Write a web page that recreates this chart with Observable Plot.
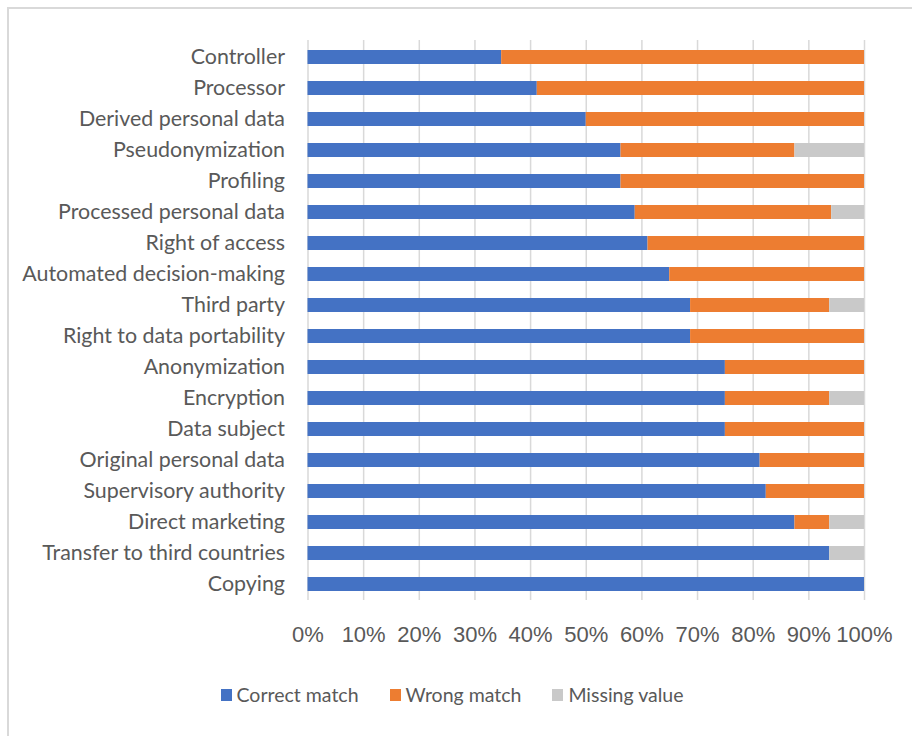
<!DOCTYPE html>
<html>
<head>
<meta charset="utf-8">
<script src="https://cdn.jsdelivr.net/npm/d3@7"></script>
<script src="https://cdn.jsdelivr.net/npm/@observablehq/plot@0.6"></script>
<style>
  html, body { margin: 0; padding: 0; background: #fff; overflow: hidden; }
  #frame {
    position: absolute; left: 7px; top: 7px;
    width: 940px; height: 760px;
    border: 2px solid #d9d9d9; box-sizing: border-box;
  }
  #chart { position: absolute; left: 0; top: 0; }
  #legend {
    position: absolute; left: -4px; top: 683px; width: 912px;
    display: flex; justify-content: center; gap: 31px;
    font-family: Lato, "Open Sans", sans-serif; font-size: 19.5px; color: #595959;
  }
  #legend .item { display: flex; align-items: center; gap: 5px; }
  #legend .sw { width: 11px; height: 12px; display: inline-block; }
</style>
</head>
<body>
<div id="frame"></div>
<div id="chart"></div>
<div id="legend"></div>
<script>
// Terms, top to bottom
const categories = [
  "Controller", "Processor", "Derived personal data", "Pseudonymization",
  "Profiling", "Processed personal data", "Right of access",
  "Automated decision-making", "Third party", "Right to data portability",
  "Anonymization", "Encryption", "Data subject", "Original personal data",
  "Supervisory authority", "Direct marketing", "Transfer to third countries",
  "Copying"
];

// Share of answers per term, in percent
const correct = [34.8, 41.2, 50, 56.25, 56.25, 58.8, 61.1, 65, 68.75, 68.75, 75, 75, 75, 81.25, 82.35, 87.5, 93.75, 100];
const wrong   = [65.2, 58.8, 50, 31.25, 43.75, 35.3, 38.9, 35, 25, 31.25, 25, 18.75, 25, 18.75, 17.65, 6.25, 0, 0];
const missing = [0, 0, 0, 12.5, 0, 5.9, 0, 0, 6.25, 0, 0, 6.25, 0, 0, 0, 6.25, 6.25, 0];

const series = ["Correct match", "Wrong match", "Missing value"];
const colors = ["#4472C4", "#ED7D31", "#C9C9C9"];
const xTicks = [0, 10, 20, 30, 40, 50, 60, 70, 80, 90, 100];

const columns = [correct, wrong, missing];
const rows = categories.flatMap((category, i) =>
  series.map((s, j) => ({category, series: s, value: columns[j][i]}))
);

const chart = Plot.plot({
  width: 912,
  height: 660,
  marginLeft: 307.5,
  marginRight: 48,
  marginTop: 40,
  marginBottom: 60,
  style: {background: "transparent", color: "#595959", overflow: "visible"},
  x: {domain: [0, 100]},
  // each row gets an equal slot; bars fill ~44% of it
  y: {domain: categories, paddingInner: 0.56, paddingOuter: 0.28},
  color: {domain: series, range: colors},
  marks: [
    Plot.gridX(xTicks, {stroke: "#d9d9d9", strokeOpacity: 1, strokeWidth: 1.5}),
    Plot.barX(rows, {y: "category", x: "value", fill: "series", order: series}),
    Plot.axisX(xTicks, {
      tickSize: 0, tickPadding: 26, tickFormat: d => d + "%",
      fontSize: 22, fontFamily: "Liberation Sans, Arial, sans-serif", label: null
    }),
    Plot.axisY({
      tickSize: 0, tickPadding: 23,
      fontSize: 21.4, fontFamily: "Lato, sans-serif", label: null
    })
  ]
});
document.getElementById("chart").appendChild(chart);

const legend = document.getElementById("legend");
series.forEach((s, i) => {
  const item = document.createElement("span");
  item.className = "item";
  const sw = document.createElement("span");
  sw.className = "sw";
  sw.style.background = colors[i];
  item.appendChild(sw);
  item.appendChild(document.createTextNode(s));
  legend.appendChild(item);
});
</script>
</body>
</html>
